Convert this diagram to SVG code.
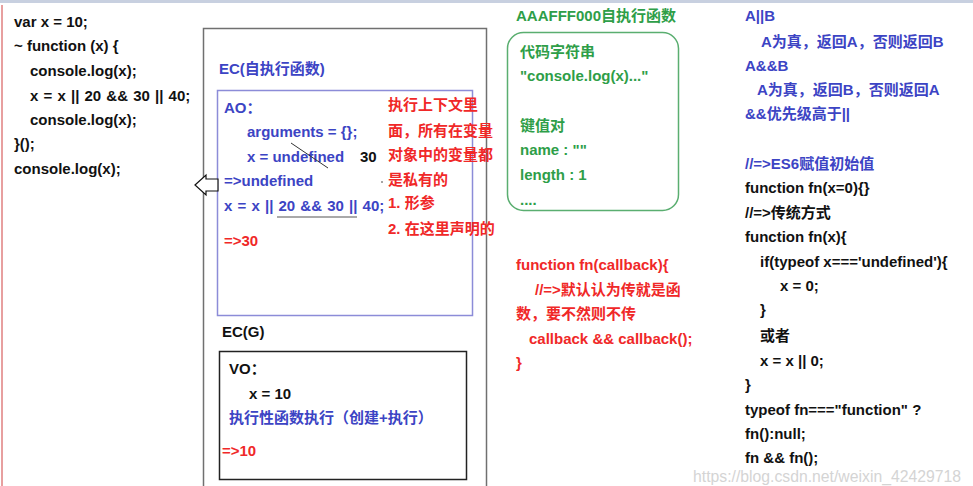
<svg xmlns="http://www.w3.org/2000/svg" width="973" height="486" viewBox="0 0 973 486">
<style>
text{font-family:"Liberation Sans","Noto Sans CJK SC",sans-serif;font-weight:bold;font-size:15px}
.k{fill:#111}
.b{fill:#3c44c4}
.r{fill:#f02828}
.g{fill:#2e9e48}
.wm{fill:#d4d4d4;font-weight:normal;font-size:16px}
</style>
<rect x="0" y="0" width="973" height="486" fill="#fff"/>
<rect x="0" y="0" width="973" height="3" fill="#c8d0e0"/>
<line x1="2" y1="5" x2="2" y2="486" stroke="#d04040" stroke-width="1"/>

<g id="code">
<text class="k" x="14" y="27">var x = 10;</text>
<text class="k" x="14" y="51">~ function (x) {</text>
<text class="k" x="30" y="76">console.log(x);</text>
<text class="k" x="30" y="101" word-spacing="1">x = x || 20 &amp;&amp; 30 || 40;</text>
<text class="k" x="30" y="125">console.log(x);</text>
<text class="k" x="14" y="149">}();</text>
<text class="k" x="14" y="174">console.log(x);</text>
</g>

<g id="stack">
<rect x="203.5" y="28.5" width="283" height="470" fill="none" stroke="#707070" stroke-width="1.5"/>
</g>

<g id="ec-self">
<text class="b" x="219" y="74">EC(自执行函数)</text>
<rect x="217.5" y="90.5" width="255" height="225" fill="none" stroke="#8c8cd8" stroke-width="1.5"/>
<text class="b" x="224" y="113">AO：</text>
<text class="b" x="247" y="137">arguments = {};</text>
<text class="b" x="247" y="162">x = undefined</text>
<text class="k" x="360" y="162">30</text>
<line x1="291" y1="143" x2="328" y2="168" stroke="#333" stroke-width="1"/>
<text class="b" x="224" y="186">=&gt;undefined</text>
<text class="b" x="224" y="211" word-spacing="1">x = x || 20 &amp;&amp; 30 || 40;</text>
<line x1="277" y1="217" x2="357" y2="217" stroke="#555" stroke-width="1.2"/>
<text class="r" x="224" y="246">=&gt;30</text>
<text class="r" x="388" y="110">执行上下文里</text>
<text class="r" x="388" y="136">面，所有在变量</text>
<text class="r" x="388" y="160">对象中的变量都</text>
<text class="r" x="388" y="185">是私有的</text>
<text class="r" x="388" y="208">1. 形参</text>
<text class="r" x="388" y="234">2. 在这里声明的</text>
<circle cx="382" cy="182" r="0.8" fill="#333"/>
</g>

<g id="connectors">
<path d="M195,185 L206,175 L206,179 L218,179 L218,191 L206,191 L206,195 Z" fill="#fff" stroke="#111" stroke-width="1.2"/>
</g>

<g id="ec-global">
<text class="k" x="222" y="337">EC(G)</text>
<rect x="219.5" y="351.5" width="247" height="128" fill="none" stroke="#222" stroke-width="1.5"/>
<text class="k" x="229" y="374">VO：</text>
<text class="k" x="249" y="399">x = 10</text>
<text class="b" x="229" y="423">执行性函数执行（创建+执行）</text>
<text class="r" x="222" y="456">=&gt;10</text>
</g>

<g id="heap">
<text class="g" x="516" y="21">AAAFFF000自执行函数</text>
<rect x="507.5" y="32.5" width="171" height="178" rx="16" fill="none" stroke="#5aae70" stroke-width="1.5"/>
<text class="g" x="520" y="57">代码字符串</text>
<text class="g" x="520" y="81">"console.log(x)..."</text>
<text class="g" x="520" y="131">键值对</text>
<text class="g" x="520" y="155">name : ""</text>
<text class="g" x="520" y="180">length : 1</text>
<text class="g" x="520" y="205">....</text>
</g>

<g id="callback">
<text class="r" x="516" y="270">function fn(callback){</text>
<text class="r" x="535" y="295">//=&gt;默认认为传就是函</text>
<text class="r" x="516" y="319">数，要不然则不传</text>
<text class="r" x="529" y="344">callback &amp;&amp; callback();</text>
<text class="r" x="516" y="368">}</text>
</g>

<g id="notes">
<text class="b" x="745" y="21">A||B</text>
<text class="b" x="761" y="47">A为真，返回A，否则返回B</text>
<text class="b" x="745" y="71">A&amp;&amp;B</text>
<text class="b" x="757" y="95">A为真，返回B，否则返回A</text>
<text class="b" x="745" y="119">&amp;&amp;优先级高于||</text>
<text class="b" x="745" y="169">//=&gt;ES6赋值初始值</text>
<text class="k" x="745" y="193">function fn(x=0){}</text>
<text class="k" x="745" y="218">//=&gt;传统方式</text>
<text class="k" x="745" y="242">function fn(x){</text>
<text class="k" x="760" y="267">if(typeof x==='undefined'){</text>
<text class="k" x="780" y="291">x = 0;</text>
<text class="k" x="760" y="315">}</text>
<text class="k" x="760" y="341">或者</text>
<text class="k" x="760" y="366">x = x || 0;</text>
<text class="k" x="745" y="390">}</text>
<text class="k" x="745" y="415">typeof fn==="function" ?</text>
<text class="k" x="745" y="439">fn():null;</text>
<text class="k" x="745" y="463">fn &amp;&amp; fn();</text>
</g>
<text class="wm" x="693" y="482" textLength="268" lengthAdjust="spacingAndGlyphs">https://blog.csdn.net/weixin_42429718</text>
</svg>
